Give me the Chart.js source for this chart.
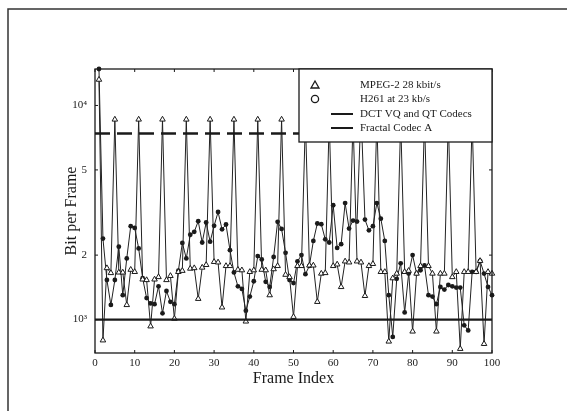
<!DOCTYPE html>
<html>
<head>
<meta charset="utf-8">
<script src="https://cdn.jsdelivr.net/npm/chart.js@4.4.1/dist/chart.umd.min.js"></script>
<style>
  html, body { margin: 0; padding: 0; background: #fff; }
</style>
</head>
<body>
<canvas id="myChart" width="567" height="411"></canvas>
<script>
// frame index 1..100
var frames = [];
for (var f = 1; f <= 100; f++) frames.push(f);

// MPEG-2 28 kbit/s (triangles), bits per frame
var mpegBits = [
  13200, 800, 1740, 1650, 8600, 1660, 1660, 1170, 1710, 1670,
  8600, 1540, 1530, 930, 1540, 1580, 8600, 1530, 1600, 1010,
  1670, 1690, 8600, 1730, 1740, 1250, 1750, 1800, 8600, 1860,
  1850, 1140, 1780, 1780, 8600, 1710, 1700, 980, 1670, 1700,
  8600, 1710, 1700, 1300, 1720, 1780, 8600, 1620, 1580, 1030,
  1780, 1780, 8600, 1790, 1790, 1210, 1640, 1650, 8600, 1780,
  1810, 1420, 1870, 1850, 8600, 1870, 1850, 1290, 1780, 1820,
  8600, 1670, 1670, 790, 1560, 1640, 8600, 1670, 1690, 880,
  1640, 1780, 8600, 1780, 1640, 880, 1640, 1640, 8600, 1580,
  1670, 730, 1670, 1670, 8600, 1670, 1880, 770, 1670, 1640
];

// H261 at 23 kb/s (dots), bits per frame
var h261Bits = [
  14800, 2390, 1530, 1170, 1530, 2190, 1300, 1930, 2730, 2680,
  2150, 1560, 1260, 1190, 1180, 1430, 1070, 1360, 1210, 1180,
  1690, 2280, 1930, 2490, 2570, 2880, 2290, 2840, 2310, 2740,
  3180, 2640, 2780, 2110, 1660, 1430, 1390, 1100, 1280, 1510,
  1980, 1910, 1500, 1420, 1960, 2860, 2650, 2050, 1530, 1480,
  1870, 2000, 1630, 1780, 2330, 2810, 2790, 2370, 2290, 3420,
  2160, 2250, 3500, 2660, 2900, 2870, 9500, 2930, 2610, 2730,
  3500, 2960, 2330, 1300, 830, 1550, 1830, 1080, 1640, 2000,
  1640, 1700, 1790, 1300, 1280, 1180, 1420, 1380, 1450, 1430,
  1410, 1410, 940, 890, 1670, 1670, 1880, 1640, 1420, 1300
];

// constant codec levels
var dctLevel = 1000;
var fractalLevel = 7400;

var xRange = [0, 100];
var yRange = [698, 14800];
var yTickValues = [1000, 2000, 5000, 10000];
var yTickLabels = ['10\u00B3', '2', '5', '10\u2074'];

var legendLabels = ['MPEG-2 28 kbit/s', 'H261 at 23 kb/s', 'DCT VQ and QT Codecs', 'Fractal Codec A'];

var serif = '"Liberation Serif", "DejaVu Serif", serif';
var ink = '#1a1a1a';

function toPoints(values) {
  return frames.map(function(fr, i) { return { x: fr, y: values[i] }; });
}
function levelLine(v) {
  return xRange.map(function(x) { return { x: x, y: v }; });
}

// plot frame with small inward ticks, plus the outer picture border
var framePlugin = {
  id: 'framePlugin',
  beforeDraw: function(chart) {
    var ctx = chart.ctx;
    ctx.save();
    ctx.strokeStyle = '#333';
    ctx.lineWidth = 1.5;
    ctx.beginPath();
    ctx.moveTo(8, chart.height);
    ctx.lineTo(8, 9);
    ctx.lineTo(chart.width, 9);
    ctx.stroke();
    ctx.restore();
  },
  afterDatasetsDraw: function(chart) {
    var ctx = chart.ctx, a = chart.chartArea;
    var xs = chart.scales.x, ys = chart.scales.y;
    ctx.save();
    ctx.strokeStyle = ink;
    ctx.lineWidth = 1.3;
    ctx.strokeRect(a.left, a.top, a.right - a.left, a.bottom - a.top);
    ctx.lineWidth = 1;
    ctx.beginPath();
    xs.ticks.forEach(function(t) {
      var px = xs.getPixelForValue(t.value);
      ctx.moveTo(px, a.bottom); ctx.lineTo(px, a.bottom - 3);
      ctx.moveTo(px, a.top); ctx.lineTo(px, a.top + 3);
    });
    ys.ticks.forEach(function(t) {
      var py = ys.getPixelForValue(t.value);
      ctx.moveTo(a.left, py); ctx.lineTo(a.left + 3, py);
      ctx.moveTo(a.right, py); ctx.lineTo(a.right - 3, py);
    });
    ctx.stroke();
    ctx.restore();
  },
  afterDraw: function(chart) {
    // legend box sits inside the plot, top right, opaque
    var ctx = chart.ctx, a = chart.chartArea;
    var bw = 193, bh = 73;
    var bx = a.right - bw, by = a.top;
    ctx.save();
    ctx.fillStyle = '#fff';
    ctx.fillRect(bx, by, bw, bh);
    ctx.strokeStyle = ink;
    ctx.lineWidth = 1.3;
    ctx.strokeRect(bx, by, bw, bh);

    var rows = [16, 30, 45, 59];
    var symX = bx + 16;
    var textX = bx + 61;
    ctx.lineWidth = 1.3;
    // triangle
    ctx.beginPath();
    ctx.moveTo(symX, by + rows[0] - 4);
    ctx.lineTo(symX + 4, by + rows[0] + 3);
    ctx.lineTo(symX - 4, by + rows[0] + 3);
    ctx.closePath();
    ctx.stroke();
    // circle
    ctx.beginPath();
    ctx.arc(symX, by + rows[1], 3.6, 0, Math.PI * 2);
    ctx.stroke();
    // lines
    ctx.lineWidth = 2;
    ctx.beginPath();
    ctx.moveTo(bx + 32, by + rows[2]); ctx.lineTo(bx + 54, by + rows[2]);
    ctx.moveTo(bx + 32, by + rows[3]); ctx.lineTo(bx + 54, by + rows[3]);
    ctx.stroke();

    ctx.fillStyle = ink;
    ctx.font = '11px ' + serif;
    ctx.textBaseline = 'middle';
    ctx.textAlign = 'left';
    legendLabels.forEach(function(s, i) {
      ctx.fillText(s, textX, by + rows[i]);
    });
    ctx.restore();
  }
};

var ctx = document.getElementById('myChart');
var myChart = new Chart(ctx, {
  type: 'line',
  data: {
    datasets: [{
      label: legendLabels[2],
      data: levelLine(dctLevel),
      borderColor: ink,
      borderWidth: 2.2,
      pointRadius: 0
    }, {
      label: legendLabels[3],
      data: levelLine(fractalLevel),
      borderColor: ink,
      borderWidth: 2.6,
      borderDash: [15, 7],
      pointRadius: 0
    }, {
      label: legendLabels[0],
      data: toPoints(mpegBits),
      borderColor: '#222',
      borderWidth: 1,
      pointStyle: 'triangle',
      pointRadius: 3.2,
      pointBackgroundColor: '#fff',
      pointBorderColor: ink,
      pointBorderWidth: 1,
      clip: false
    }, {
      label: legendLabels[1],
      data: toPoints(h261Bits),
      borderColor: '#222',
      borderWidth: 1,
      pointStyle: 'circle',
      pointRadius: 2.4,
      pointBackgroundColor: ink,
      pointBorderColor: ink,
      pointBorderWidth: 0,
      clip: false
    }]
  },
  options: {
    responsive: false,
    animation: false,
    devicePixelRatio: 1,
    layout: { padding: { top: 69, right: 75, left: 0, bottom: 0 } },
    plugins: {
      legend: { display: false },
      tooltip: { enabled: false }
    },
    scales: {
      x: {
        type: 'linear',
        min: xRange[0],
        max: xRange[1],
        grid: { display: false, drawTicks: false },
        border: { display: false },
        ticks: { stepSize: 10, color: ink, padding: 4, font: { family: serif, size: 11 } },
        title: { display: true, text: 'Frame Index', color: ink, font: { family: serif, size: 16 }, padding: { top: 0, bottom: 23 } },
        afterFit: function(scale) { scale.height = 58; }
      },
      y: {
        type: 'logarithmic',
        min: yRange[0],
        max: yRange[1],
        grid: { display: false, drawTicks: false },
        border: { display: false },
        afterBuildTicks: function(scale) {
          scale.ticks = yTickValues.map(function(v) { return { value: v }; });
        },
        ticks: {
          color: ink,
          padding: 8,
          font: { family: serif, size: 11 },
          callback: function(value) {
            var i = yTickValues.indexOf(value);
            return i >= 0 ? yTickLabels[i] : '';
          }
        },
        title: { display: true, text: 'Bit per Frame', color: ink, font: { family: serif, size: 16 }, padding: { top: 62, bottom: 0 } },
        afterFit: function(scale) { scale.width = 95; }
      }
    }
  },
  plugins: [framePlugin]
});
</script>
</body>
</html>
